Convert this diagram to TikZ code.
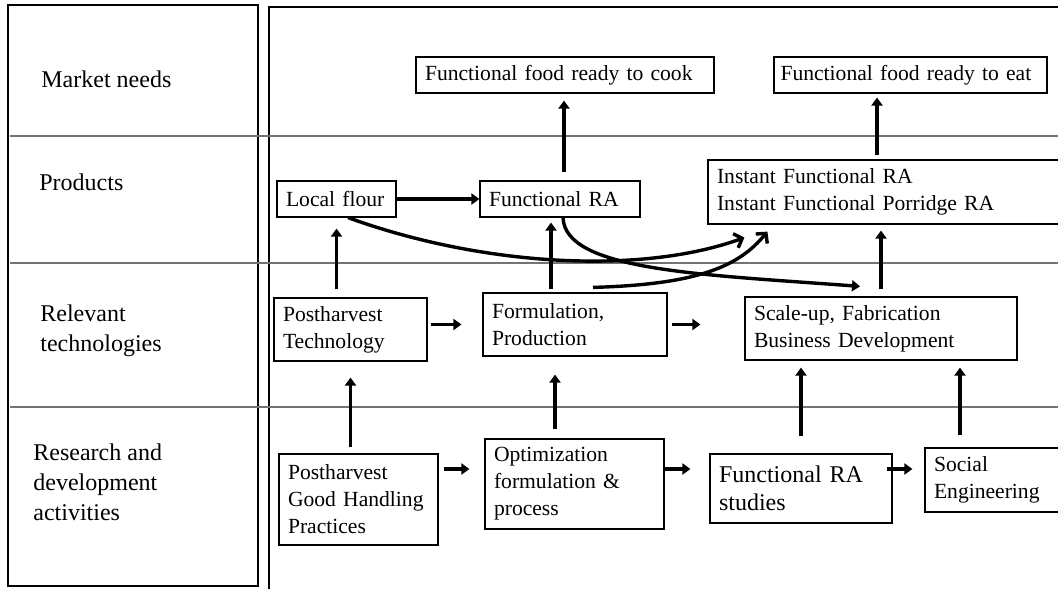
\documentclass[tikz,border=0pt]{standalone}
\usepackage{fontspec}
\setmainfont{Liberation Serif}
\usetikzlibrary{positioning,arrows.meta}

\begin{document}
\begin{tikzpicture}[
    x=0.5pt, y=-0.5pt,
    box/.style={rectangle, draw, line width=0.6pt, align=left, inner xsep=4.5pt, inner ysep=0pt, font=\fontsize{10.8}{13.5}\selectfont},
    rowlabel/.style={anchor=west, align=left, inner sep=0pt, font=\fontsize{12}{15}\selectfont},
    arrow/.style={-{Triangle[length=4pt,width=5.5pt]}, line width=1.7pt},
    barb/.style={-{Straight Barb[length=3.5pt,width=7.5pt]}, line width=1.7pt},
    band/.style={draw=black!55, line width=0.6pt}
]
    \useasboundingbox (0,0) rectangle (1058,588);
    \clip (0,0) rectangle (1058,588);

    \draw[line width=0.7pt] (8,5) rectangle (258,586);
    \draw[line width=0.7pt] (269,600) -- (269,7) -- (1070,7);
    \foreach \y in {136,263,407}
        \draw[band] (10,\y) -- (1058,\y);

    \node[rowlabel] (market) at (41,79) {Market needs};
    \node[rowlabel] (products) at (39,182) {Products};
    \node[rowlabel] (tech) at (40,331) {Relevant\\technologies};
    \node[rowlabel] (rnd) at (33,482) {Research and\\development\\activities};

    \node[box, text width=140pt, minimum height=18pt] (cook) at (565,75) {Functional food ready to cook};
    \node[box, inner xsep=3.25pt, text width=130pt, minimum height=18pt] (eat) at (910.5,75) {Functional food ready to eat};
    \node[box, text width=50.5pt, minimum height=18pt] (flour) at (336.5,199) {Local flour};
    \node[box, text width=71pt, minimum height=18pt] (fra) at (560,199) {Functional RA};
    \node[box, text width=171pt, minimum height=32pt] (inst) at (888,192) {Instant Functional RA\\Instant Functional Porridge RA};
    \node[box, text width=67.5pt, minimum height=31.5pt] (pht) at (350.5,329.5) {Postharvest\\Technology};
    \node[box, text width=83pt, minimum height=31.5pt] (form) at (575,324.5) {Formulation,\\Production};
    \node[box, text width=127pt, minimum height=31.5pt] (scale) at (881,328.5) {Scale-up, Fabrication\\Business Development};
    \node[box, text width=70.5pt, minimum height=45.5pt] (pghp) at (358.5,499.5) {Postharvest\\Good Handling\\Practices};
    \node[box, text width=80.5pt, minimum height=45pt] (opt) at (574.5,484) {Optimization\\formulation \&\\process};
    \node[box, text width=82pt, minimum height=34.5pt, font=\fontsize{12}{14}\selectfont] (fras) at (801,488.5) {Functional RA\\studies};
    \node[box, text width=71pt, minimum height=32pt] (soc) at (1005,480) {Social\\Engineering};

    \draw[arrow, shorten <=4pt, shorten >=3.5pt] ([xshift=2pt]fra.north) -- ([xshift=2pt]fra.north |- cook.south);
    \draw[arrow, shorten <=2pt, shorten >=2pt] ([xshift=-5.5pt]inst.north) -- ([xshift=-5.5pt]inst.north |- eat.south);
    \draw[arrow, shorten <=3.5pt, shorten >=3pt] (scale.north) -- (scale.north |- inst.south);
    \draw[arrow, shorten <=4pt, shorten >=5.5pt] (flour.south |- pht.north) -- (flour.south);
    \draw[arrow, shorten <=1.5pt, shorten >=2.5pt] ([xshift=-4.5pt]fra.south |- form.north) -- ([xshift=-4.5pt]fra.south);
    \draw[arrow, shorten <=3pt, shorten >=8pt] (pht.south |- pghp.north) -- (pht.south);
    \draw[arrow, shorten <=4.5pt, shorten >=9pt] ([xshift=-10pt]form.south |- opt.north) -- ([xshift=-10pt]form.south);
    \draw[arrow, shorten <=8.5pt, shorten >=3.5pt] (fras.north) -- (fras.north |- scale.south);
    \draw[arrow, shorten <=6pt, shorten >=3.5pt] ([xshift=39.5pt]scale.south |- soc.north) -- ([xshift=39.5pt]scale.south);

    \draw[arrow] (flour) -- (fra);
    \draw[arrow, shorten <=1.5pt, shorten >=10.5pt] (pht.east |- form) -- (form.west);
    \draw[arrow, shorten <=2pt, shorten >=22pt] (form.east) -- (form.east -| scale.west);
    \draw[arrow, shorten <=2.5pt, shorten >=7.5pt] ([yshift=7.5pt]opt.west -| pghp.east) -- ([yshift=7.5pt]opt.west);
    \draw[arrow, shorten >=9.5pt] ([yshift=7.5pt]opt.east) -- ([yshift=7.5pt]opt.east -| fras.west);
    \draw[arrow, shorten <=-3pt, shorten >=6pt] ([yshift=7.5pt]opt.east -| fras.east) -- ([yshift=7.5pt]opt.east -| soc.west);

    \draw[barb] ([xshift=5.75pt]flour.south) .. controls +(132,48) and +(-105,38) .. ([xshift=18.5pt,yshift=-6.5pt]inst.south west);
    \draw[arrow] ([xshift=1.5pt]fra.south) .. controls +(2,53) and +(-160,-12) .. ([xshift=-10.5pt,yshift=5pt]scale.north);
    \draw[barb] ([xshift=9pt,yshift=2.5pt]form.north) .. controls +(107,-3) and +(-28,34) .. ([xshift=30pt,yshift=-3.5pt]inst.south west);
\end{tikzpicture}
\end{document}
